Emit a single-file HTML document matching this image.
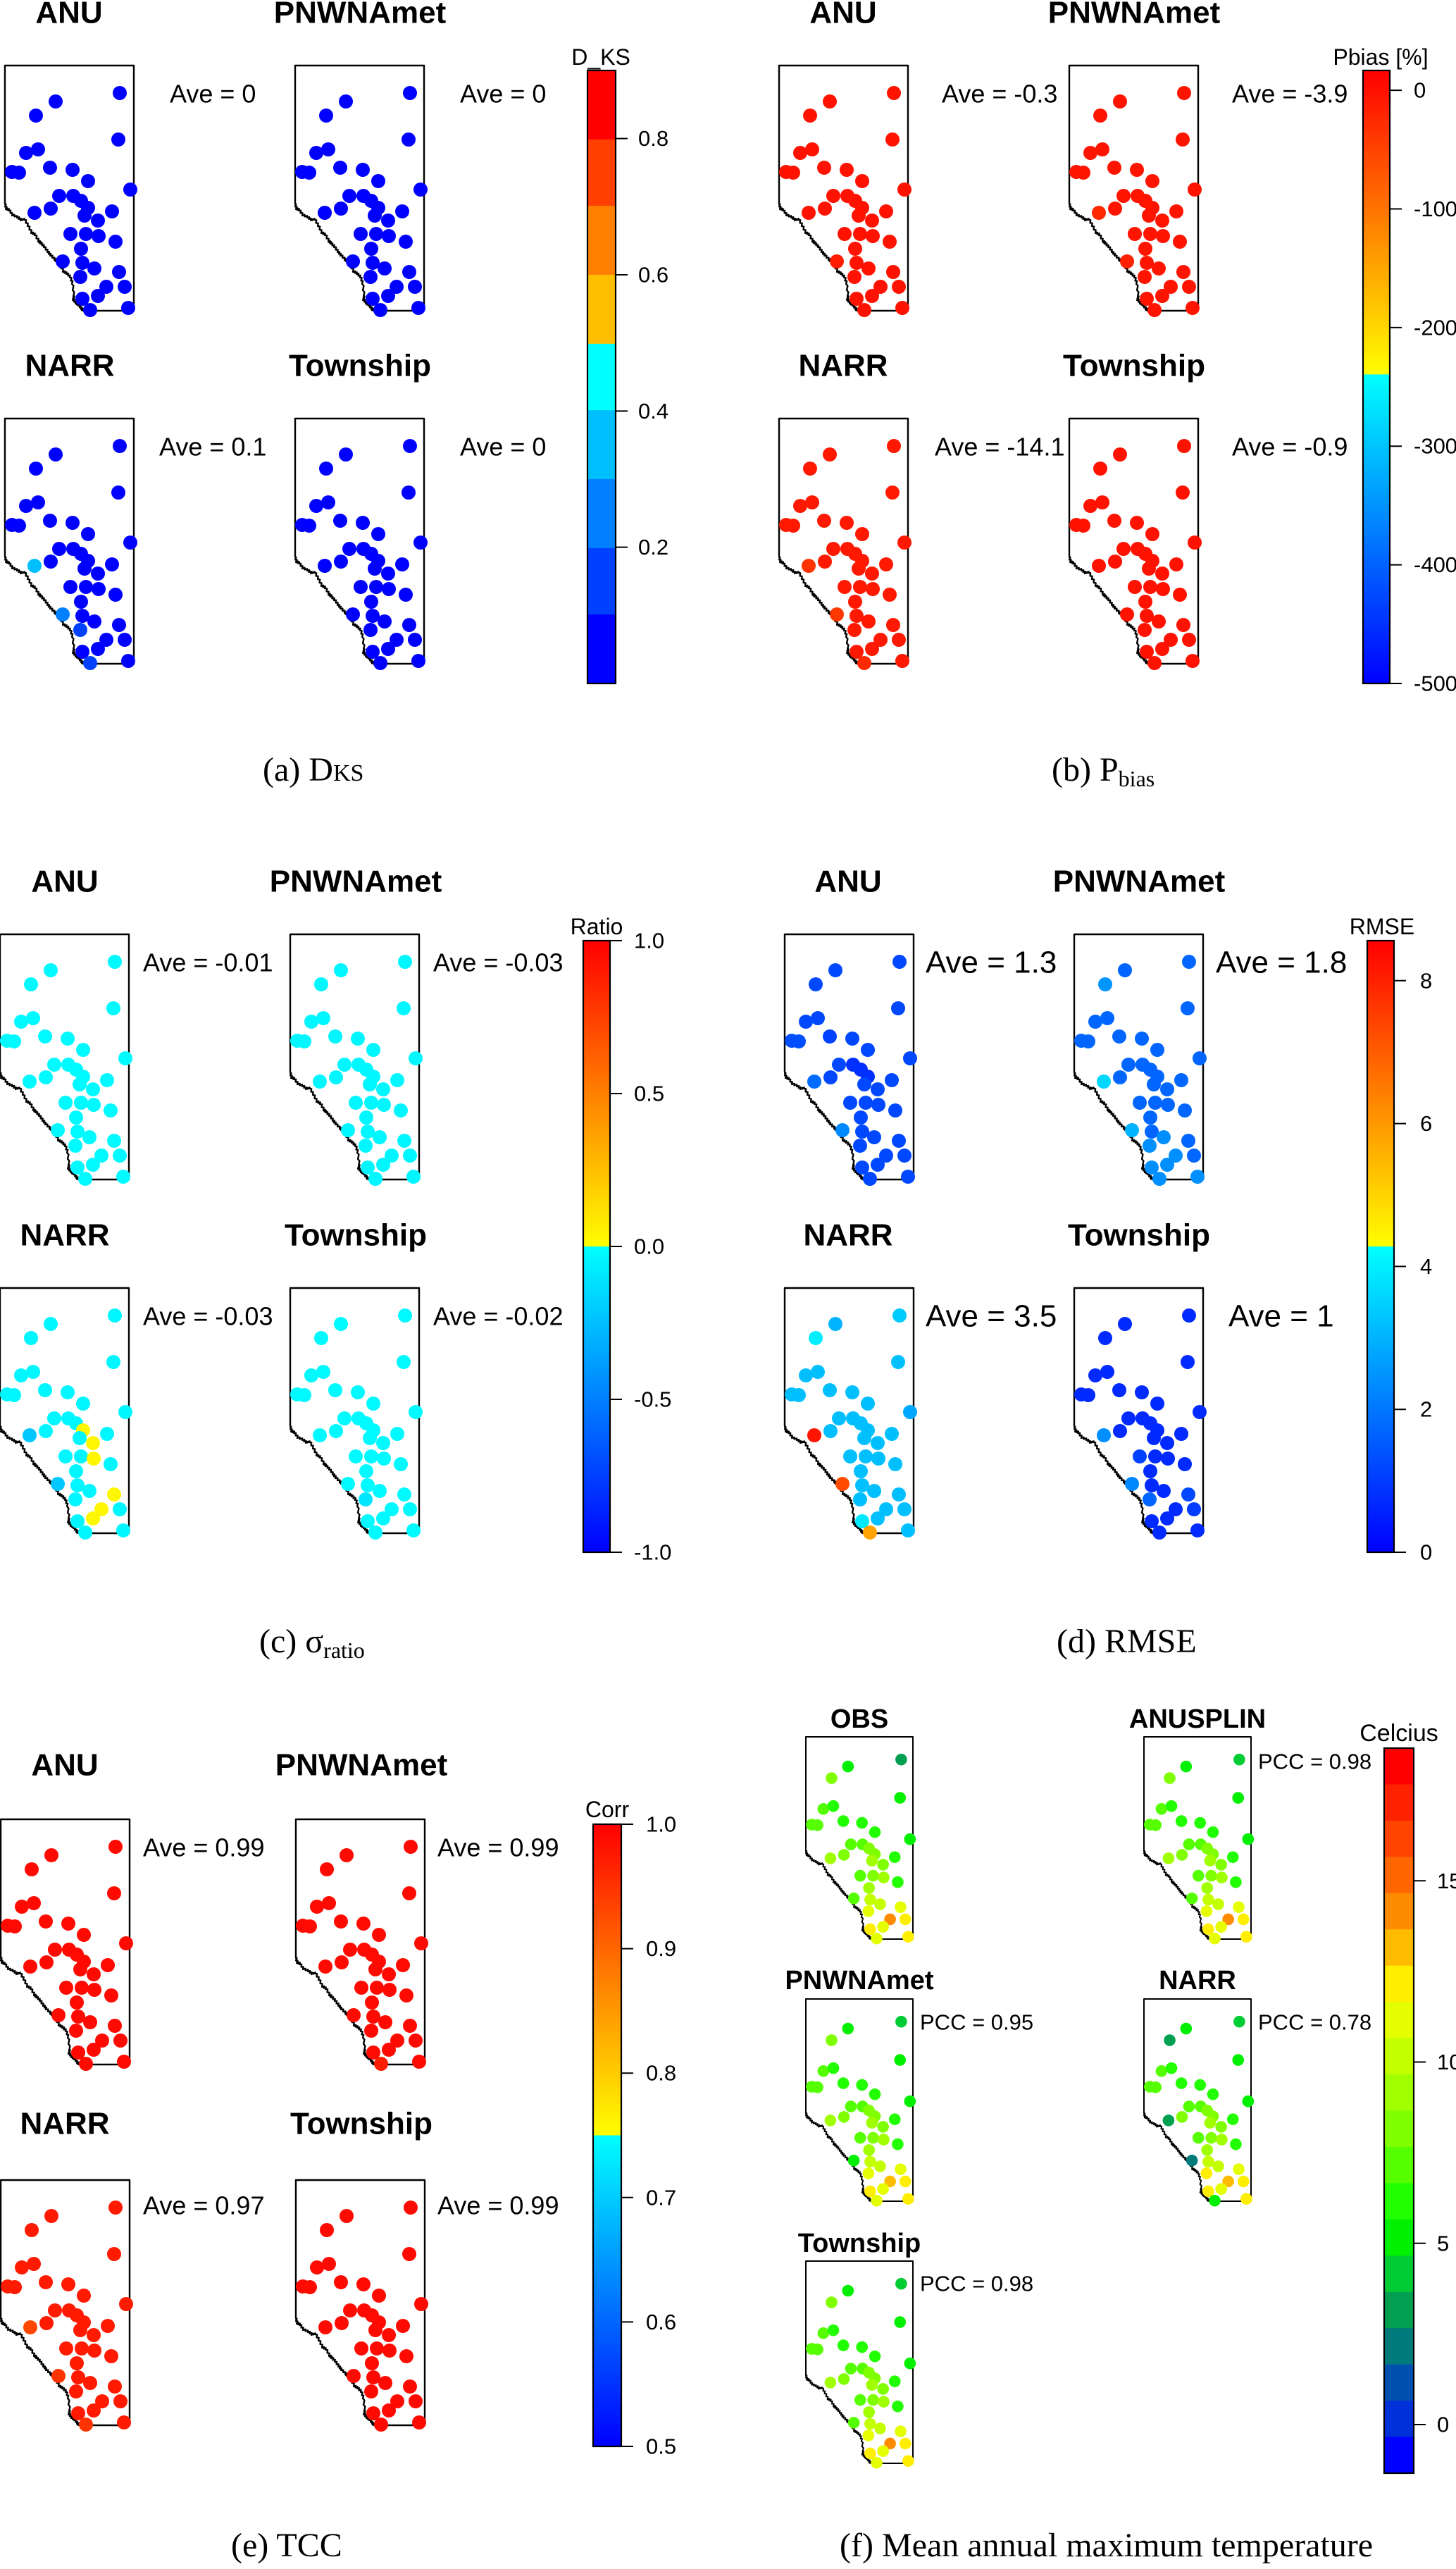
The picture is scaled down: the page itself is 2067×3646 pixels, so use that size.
<!DOCTYPE html>
<html>
<head>
<meta charset="utf-8">
<style>
  html,body{margin:0;padding:0;background:#fff;}
  svg{display:block;}
  text{font-family:"Liberation Sans",Arial,sans-serif;fill:#000;}
  .cap{font-family:"Liberation Serif","Times New Roman",serif;}
</style>
</head>
<body>
<svg id="fig" xmlns="http://www.w3.org/2000/svg" width="2067" height="3646" viewBox="0 0 2067 3646"></svg>
<script>
// ---------------- DATA ----------------
const stationLon = [163,72,44,161,30,47,10,20,64,96,118,178,77,97,108,118,113,65,42,152,132,93,115,133,157,108,82,110,127,162,107,144,170,132,110,121,175];
const stationLat = [39,51,71,105,124,119,151,152,145,148,164,176,185,185,192,202,213,203,209,207,220,239,239,242,250,260,278,280,288,293,300,314,314,327,331,347,344];
const coastLon = [0,2,6,11,18,23,28,33,38,43,48,51,56,61,65,71,73,78,83,88,93,96,98,97,101,105,109,111];
const coastLat = [196,203,205,212,215,219,218,227,237,240,249,252,257,264,269,275,277,282,292,295,300,309,327,332,337,340,345,348];

const aANU  = [0.03,0.03,0.03,0.03,0.03,0.03,0.03,0.03,0.03,0.03,0.03,0.03,0.03,0.03,0.03,0.03,0.03,0.03,0.03,0.03,0.03,0.03,0.03,0.03,0.03,0.03,0.03,0.03,0.03,0.03,0.03,0.03,0.03,0.03,0.03,0.03,0.03];
const aPNW  = [0.03,0.03,0.03,0.03,0.03,0.03,0.03,0.03,0.03,0.03,0.03,0.03,0.03,0.03,0.03,0.03,0.03,0.03,0.03,0.03,0.03,0.03,0.03,0.03,0.03,0.03,0.03,0.03,0.03,0.03,0.03,0.03,0.03,0.03,0.03,0.03,0.03];
const aNARR = [0.05,0.05,0.05,0.05,0.05,0.05,0.05,0.05,0.05,0.05,0.05,0.05,0.05,0.05,0.05,0.05,0.05,0.05,0.32,0.05,0.05,0.05,0.05,0.05,0.05,0.05,0.28,0.05,0.05,0.05,0.15,0.05,0.05,0.05,0.05,0.15,0.05];
const aTOWN = [0.03,0.03,0.03,0.03,0.03,0.03,0.03,0.03,0.03,0.03,0.03,0.03,0.03,0.03,0.03,0.03,0.03,0.03,0.03,0.03,0.03,0.03,0.03,0.03,0.03,0.03,0.03,0.03,0.03,0.03,0.03,0.03,0.03,0.03,0.03,0.03,0.03];
const bANU  = [-2,-2,-2,-2,-2,-2,-2,-2,-2,-2,-2,-2,-2,-2,-2,-2,-2,-2,-2,-2,-2,-2,-2,-2,-2,-2,-12,-2,-2,-2,-2,-2,-2,-2,-2,-2,-2];
const bPNW  = [-3,-3,-3,-3,-3,-3,-3,-3,-3,-3,-3,-3,-3,-3,-3,-3,-3,-3,-25,-3,-3,-3,-3,-3,-3,-3,-18,-3,-3,-3,-3,-3,-3,-3,-3,-3,-3];
const bNARR = [-8,-8,-8,-8,-8,-8,-8,-8,-8,-8,-8,-8,-8,-8,-8,-8,-8,-8,-35,-8,-8,-8,-8,-8,-8,-8,-40,-8,-8,-8,-8,-8,-8,-8,-8,-25,-8];
const bTOWN = [-1,-1,-1,-1,-1,-1,-1,-1,-1,-1,-1,-1,-1,-1,-1,-1,-1,-1,-1,-1,-1,-1,-1,-1,-1,-1,-1,-1,-1,-1,-1,-1,-1,-1,-1,-1,-1];
const cANU  = [-0.02,-0.02,-0.02,-0.02,-0.02,-0.02,-0.02,-0.02,-0.02,-0.02,-0.02,-0.02,-0.02,-0.02,-0.02,-0.02,-0.02,-0.02,-0.02,-0.02,-0.02,-0.02,-0.02,-0.02,-0.02,-0.02,-0.02,-0.02,-0.02,-0.02,-0.02,-0.02,-0.02,-0.02,-0.02,-0.02,-0.02];
const cPNW  = [-0.03,-0.03,-0.03,-0.03,-0.03,-0.03,-0.03,-0.03,-0.03,-0.03,-0.03,-0.03,-0.03,-0.03,-0.03,-0.03,-0.03,-0.03,-0.03,-0.03,-0.03,-0.03,-0.03,-0.03,-0.03,-0.03,-0.03,-0.03,-0.03,-0.03,-0.03,-0.03,-0.03,-0.03,-0.03,-0.03,-0.03];
const cNARR = [-0.03,-0.03,-0.03,-0.03,-0.03,-0.03,-0.03,-0.03,-0.03,-0.03,-0.03,-0.03,-0.03,-0.03,-0.03,0.03,-0.03,-0.03,-0.22,-0.03,0.03,-0.03,-0.03,0.03,-0.03,-0.03,-0.22,-0.03,-0.03,0.03,-0.03,0.03,-0.03,0.03,-0.03,-0.03,-0.03];
const cTOWN = [-0.02,-0.02,-0.02,-0.02,-0.02,-0.02,-0.02,-0.02,-0.02,-0.02,-0.02,-0.02,-0.02,-0.02,-0.02,-0.02,-0.02,-0.02,-0.02,-0.02,-0.02,-0.02,-0.02,-0.02,-0.02,-0.02,-0.02,-0.02,-0.02,-0.02,-0.1,-0.02,-0.02,-0.02,-0.02,-0.02,-0.02];
const dANU  = [1.2,1.2,1.2,1.2,1.2,1.2,1.3,1.3,1.1,1.2,1.2,1.2,1.2,0.8,0.8,0.8,1.2,1.2,1.8,1.2,1.2,1.2,1.2,1.2,1.2,1.2,2.3,1.2,1.2,1.2,1.2,1.2,1.2,1.2,1.2,1.2,1.2];
const dPNW  = [1.7,1.7,2.5,1.7,1.7,1.7,1.7,1.7,1.7,1.7,1.7,1.7,1.7,1.7,1.7,1.7,1.7,1.7,3.6,1.7,1.7,1.7,1.7,1.7,1.7,1.7,3.0,1.7,2.4,1.7,2.4,2.4,1.7,2.4,2.4,2.4,2.4];
const dNARR = [3.4,3.0,4.0,3.2,3.2,3.2,3.2,3.2,3.2,3.2,3.2,2.8,3.2,3.2,3.2,3.2,3.2,3.2,8.2,3.2,3.2,3.2,3.2,3.2,3.2,3.2,7.3,3.2,3.2,3.2,3.2,3.2,3.2,3.2,3.9,5.8,3.2];
const dTOWN = [0.7,0.7,0.7,0.7,0.7,0.7,0.7,0.7,0.7,0.7,0.7,0.7,0.7,0.7,0.7,0.7,0.7,0.7,2.4,0.7,0.7,1.1,0.7,0.7,0.7,0.7,2.3,0.7,0.7,1.2,1.7,0.7,1.0,0.7,0.7,0.7,0.7];
const eANU  = [0.99,0.99,0.99,0.99,0.99,0.99,0.99,0.99,0.99,0.99,0.99,0.99,0.99,0.99,0.99,0.99,0.99,0.99,0.99,0.99,0.99,0.99,0.99,0.99,0.99,0.99,0.99,0.99,0.99,0.99,0.99,0.99,0.99,0.99,0.99,0.99,0.99];
const ePNW  = [0.99,0.99,0.99,0.99,0.99,0.99,0.99,0.99,0.99,0.99,0.99,0.99,0.99,0.99,0.99,0.99,0.99,0.99,0.99,0.99,0.99,0.99,0.99,0.99,0.99,0.99,0.99,0.99,0.99,0.99,0.99,0.99,0.99,0.99,0.99,0.97,0.99];
const eNARR = [0.975,0.975,0.975,0.975,0.975,0.975,0.975,0.975,0.975,0.975,0.975,0.975,0.975,0.975,0.975,0.975,0.975,0.975,0.93,0.975,0.975,0.975,0.975,0.975,0.975,0.975,0.95,0.975,0.975,0.975,0.975,0.975,0.975,0.975,0.975,0.95,0.975];
const eTOWN = [0.99,0.99,0.99,0.99,0.99,0.99,0.99,0.99,0.99,0.99,0.99,0.99,0.99,0.99,0.99,0.99,0.99,0.99,0.99,0.99,0.99,0.99,0.99,0.99,0.99,0.99,0.99,0.99,0.99,0.99,0.99,0.99,0.99,0.99,0.99,0.99,0.99];
const fOBS  = [3.2,5.2,8.0,5.0,7.0,6.0,7.0,7.0,6.0,6.0,6.5,5.5,7.5,7.5,8.0,8.5,9.0,8.0,9.5,6.5,8.5,7.5,8.5,9.0,6.5,9.0,7.5,10.0,10.5,11.5,11.5,14.0,12.0,11.5,12.0,11.0,12.0];
const fANUS = [4.2,5.2,8.0,5.0,7.0,6.0,7.0,7.0,6.0,6.0,6.5,5.5,7.5,7.5,8.0,8.5,9.0,8.0,9.5,6.5,8.5,7.5,8.5,9.0,6.5,9.0,7.5,10.0,10.5,11.5,11.5,14.0,12.0,11.5,12.0,11.0,12.0];
const fPNW  = [4.0,5.2,8.0,5.0,7.0,6.0,7.0,7.0,6.0,6.0,6.5,5.5,7.5,7.5,8.0,8.5,9.0,8.0,9.5,6.5,8.5,7.5,8.5,9.0,6.5,9.0,5.2,10.0,10.5,11.5,11.5,13.2,12.0,11.5,12.0,11.0,12.0];
const fNARR = [4.0,5.2,3.2,5.0,7.0,6.0,7.0,7.0,6.0,6.0,6.5,5.5,7.5,7.5,8.0,8.5,9.0,8.0,3.0,6.5,8.5,7.5,8.5,9.0,6.5,9.0,2.2,10.0,10.5,11.5,12.0,13.2,12.0,11.5,12.0,4.8,12.0];
const fTOWN = [4.0,5.2,8.0,5.0,7.0,6.0,7.0,7.0,6.0,6.0,6.5,5.5,7.5,7.5,8.0,8.5,9.0,8.0,9.5,6.5,8.5,7.5,8.5,9.0,6.5,9.0,7.5,10.0,10.5,11.5,11.5,14.0,12.0,11.5,12.0,11.0,12.0];

const ticksA = [0.2,0.4,0.6,0.8];
const ticksB = [0,-100,-200,-300,-400,-500];
const ticksC = [1.0,0.5,0.0,-0.5,-1.0];
const ticksD = [0,2,4,6,8];
const ticksE = [0.5,0.6,0.7,0.8,0.9,1.0];
const ticksF = [0,5,10,15];

const aveA = ["Ave = 0","Ave = 0","Ave = 0.1","Ave = 0"];
const aveB = ["Ave = -0.3","Ave = -3.9","Ave = -14.1","Ave = -0.9"];
const aveC = ["Ave = -0.01","Ave = -0.03","Ave = -0.03","Ave = -0.02"];
const aveD = ["Ave = 1.3","Ave = 1.8","Ave = 3.5","Ave = 1"];
const aveE = ["Ave = 0.99","Ave = 0.99","Ave = 0.97","Ave = 0.99"];
const pccF = ["PCC = 0.98","PCC = 0.95","PCC = 0.78","PCC = 0.98"];

// ---------------- DRAWING ----------------
const NS = "http://www.w3.org/2000/svg";
const svg = document.getElementById('fig');
function el(tag, parent){ const e = document.createElementNS(NS, tag); (parent||svg).appendChild(e); return e; }
function rgb(r,g,b){ return 'rgb('+Math.round(r)+','+Math.round(g)+','+Math.round(b)+')'; }
function splitMap(min, brk, max){
  return function(v){
    if (v >= brk){ let t=(v-brk)/(max-brk); t=Math.max(0,Math.min(1,t)); return rgb(255,255*(1-t),0); }
    let t=(v-min)/(brk-min); t=Math.max(0,Math.min(1,t)); return rgb(0,255*t,255);
  };
}
const bandsA = ['#0000ff','#0040ff','#0080ff','#00bfff','#00ffff','#ffbf00','#ff8000','#ff4000','#ff0000'];
function cmapA(v){ let i=Math.floor(v/0.1); i=Math.max(0,Math.min(8,i)); return bandsA[i]; }
const bandsF = ['#0000ff','#0030d8','#0050b0','#007a7a','#00a050','#00cc33','#00f000','#22ff00','#55ff00','#80ff00','#a0ff00','#c4ff00','#e5ff00','#ffee00','#ffbb00','#ff8c00','#ff6600','#ff4400','#ff2200','#ff0000'];
const fMin=-1.34, fMax=18.66;
function cmapF(v){ let i=Math.floor((v-fMin)/((fMax-fMin)/20)); i=Math.max(0,Math.min(19,i)); return bandsF[i]; }
const cmapB = splitMap(-500,-240,16.7);
const cmapC = splitMap(-1,0,1);
const cmapD = splitMap(0,4.27,8.56);
const cmapE = splitMap(0.5,0.75,1.0);

function drawMap(name, x0, y0, w, h, values, cmap){
  const g = el('g');
  
  
  const sx = w/183, sy = h/348;
  const px = u => x0 + u*sx, py = u => y0 + u*sy;
  let d = 'M'+px(0)+','+py(coastLat[0])+' L'+px(0)+','+py(0)+' L'+px(183)+','+py(0)+' L'+px(183)+','+py(348)+' L'+px(coastLon[coastLon.length-1])+','+py(348);
  for (let i=coastLon.length-1;i>0;i--){
    const xa=coastLon[i], ya=coastLat[i], xb=coastLon[i-1], yb=coastLat[i-1];
    for (let k=1;k<=4;k++){
      const t=k/4; const j=(k%2?0.9:-0.9);
      d += ' L'+(px(xa+(xb-xa)*t)+j)+','+(py(ya+(yb-ya)*t)-j);
    }
  }
  const p = el('path', g);
  
  
  p.setAttribute('d', d);
  p.setAttribute('fill','none');
  p.setAttribute('stroke','#000');
  p.setAttribute('stroke-width', 2.4*sx);
  p.setAttribute('stroke-linejoin','round');
  const r = 10*sx;
  for (let i=0;i<stationLon.length;i++){
    const c = el('circle', g);
    
    
    c.setAttribute('cx', px(stationLon[i]));
    c.setAttribute('cy', py(stationLat[i]));
    c.setAttribute('r', r);
    c.setAttribute('fill', cmap(values[i]));
  }
}

function text(name, str, x, y, size, opts){
  const t = el('text');
  
  
  t.setAttribute('x', x);
  t.setAttribute('y', y);
  t.setAttribute('font-size', size);
  t.setAttribute('dominant-baseline','central');
  if (opts && opts.anchor) t.setAttribute('text-anchor', opts.anchor);
  if (opts && opts.bold) t.setAttribute('font-weight','bold');
  t.textContent = str;
  return t;
}

function colorbar(name, x0, y0, x1, y1, vmin, vmax, cmap, ticks, fmt, labelX, title, titleX, titleY, titleSize){
  const g = el('g');
  
  
  const N = 240, hgt = (y1-y0)/N;
  for (let i=0;i<N;i++){
    const v = vmax - (i+0.5)/N*(vmax-vmin);
    const r = el('rect', g);
    
    
    r.setAttribute('x', x0); r.setAttribute('y', y0+i*hgt);
    r.setAttribute('width', x1-x0); r.setAttribute('height', hgt+0.6);
    r.setAttribute('fill', cmap(v));
  }
  const b = el('rect', g);
  
  
  b.setAttribute('x', x0); b.setAttribute('y', y0);
  b.setAttribute('width', x1-x0); b.setAttribute('height', y1-y0);
  b.setAttribute('fill','none'); b.setAttribute('stroke','#000'); b.setAttribute('stroke-width',2.2);
  const yScale = v => y1 - (v-vmin)/(vmax-vmin)*(y1-y0);
  ticks.forEach(v=>{
    const y = yScale(v);
    const l = el('line', g);
    
    
    l.setAttribute('x1', x1); l.setAttribute('x2', x1+17);
    l.setAttribute('y1', y); l.setAttribute('y2', y);
    l.setAttribute('stroke','#000'); l.setAttribute('stroke-width',2);
    text(name+'-tick-label', fmt(v), labelX, y, 31);
  });
  text(name+'-title', title, titleX, titleY, titleSize||32, {anchor:'middle'});
}

const f1 = v => v.toFixed(1);
const f0 = v => String(v);
const MW=183, MH=348;

[['anu',7,93,98,18,aANU,241,133,'ANU'],['pnwnamet',419,93,511,18,aPNW,653,133,'PNWNAmet'],
 ['narr',7,594,99,519,aNARR,226,634,'NARR'],['township',419,594,511,519,aTOWN,653,634,'Township']].forEach((m,i)=>{
  text('a-'+m[0]+'-title', m[8], m[3], m[4], 44, {anchor:'middle', bold:true});
  drawMap('a-'+m[0], m[1], m[2], MW, MH, m[5], cmapA);
  text('a-'+m[0]+'-ave', aveA[i], m[6], m[7], 36);
});
colorbar('a-colorbar', 834,100,874,970, 0,0.9, cmapA, ticksA, f1, 906, 'D_KS', 853, 81);

[['anu',1106,93,1197,18,bANU,1337,133,'ANU'],['pnwnamet',1518,93,1610,18,bPNW,1749,133,'PNWNAmet'],
 ['narr',1106,594,1197,519,bNARR,1327,634,'NARR'],['township',1518,594,1610,519,bTOWN,1749,634,'Township']].forEach((m,i)=>{
  text('b-'+m[0]+'-title', m[8], m[3], m[4], 44, {anchor:'middle', bold:true});
  drawMap('b-'+m[0], m[1], m[2], MW, MH, m[5], cmapB);
  text('b-'+m[0]+'-ave', aveB[i], m[6], m[7], 36);
});
colorbar('b-colorbar', 1935,100,1973,970, -500,16.7, cmapB, ticksB, f0, 2007, 'Pbias [%]', 1960, 81);

[['anu',0,1326,92,1251,cANU,203,1366,'ANU'],['pnwnamet',412,1326,505,1251,cPNW,615,1366,'PNWNAmet'],
 ['narr',0,1828,92,1753,cNARR,203,1868,'NARR'],['township',412,1828,505,1753,cTOWN,615,1868,'Township']].forEach((m,i)=>{
  text('c-'+m[0]+'-title', m[8], m[3], m[4], 44, {anchor:'middle', bold:true});
  drawMap('c-'+m[0], m[1], m[2], MW, MH, m[5], cmapC);
  text('c-'+m[0]+'-ave', aveC[i], m[6], m[7], 36);
});
colorbar('c-colorbar', 828,1335,866,2203, -1,1, cmapC, ticksC, f1, 900, 'Ratio', 847, 1315);

[['anu',1114,1326,1204,1251,dANU,1314,1366,'ANU'],['pnwnamet',1525,1326,1617,1251,dPNW,1726,1366,'PNWNAmet'],
 ['narr',1114,1828,1204,1753,dNARR,1314,1868,'NARR'],['township',1525,1828,1617,1753,dTOWN,1744,1868,'Township']].forEach((m,i)=>{
  text('d-'+m[0]+'-title', m[8], m[3], m[4], 44, {anchor:'middle', bold:true});
  drawMap('d-'+m[0], m[1], m[2], MW, MH, m[5], cmapD);
  text('d-'+m[0]+'-ave', aveD[i], m[6], m[7], 44);
});
colorbar('d-colorbar', 1941,1335,1979,2203, 0,8.56, cmapD, ticksD, f0, 2016, 'RMSE', 1962, 1315);

[['anu',1,2582,92,2505,eANU,203,2622,'ANU'],['pnwnamet',420,2582,513,2505,ePNW,621,2622,'PNWNAmet'],
 ['narr',1,3094,92,3014,eNARR,203,3130,'NARR'],['township',420,3094,513,3014,eTOWN,621,3130,'Township']].forEach((m,i)=>{
  text('e-'+m[0]+'-title', m[8], m[3], m[4], 44, {anchor:'middle', bold:true});
  drawMap('e-'+m[0], m[1], m[2], MW, MH, m[5], cmapE);
  text('e-'+m[0]+'-ave', aveE[i], m[6], m[7], 36);
});
colorbar('e-colorbar', 842,2589,882,3472, 0.5,1.0, cmapE, ticksE, f1, 917, 'Corr', 862, 2568);

const FW=152, FH=287;
text('f-obs-title', 'OBS', 1220, 2440, 38, {anchor:'middle', bold:true});
drawMap('f-obs', 1144, 2465, FW, FH, fOBS, cmapF);
text('f-anusplin-title', 'ANUSPLIN', 1700, 2440, 38, {anchor:'middle', bold:true});
drawMap('f-anusplin', 1624, 2465, FW, FH, fANUS, cmapF);
text('f-anusplin-pcc', pccF[0], 1786, 2500, 31);
text('f-pnwnamet-title', 'PNWNAmet', 1220, 2811, 38, {anchor:'middle', bold:true});
drawMap('f-pnwnamet', 1144, 2837, FW, FH, fPNW, cmapF);
text('f-pnwnamet-pcc', pccF[1], 1306, 2870, 31);
text('f-narr-title', 'NARR', 1700, 2811, 38, {anchor:'middle', bold:true});
drawMap('f-narr', 1624, 2837, FW, FH, fNARR, cmapF);
text('f-narr-pcc', pccF[2], 1786, 2870, 31);
text('f-township-title', 'Township', 1220, 3184, 38, {anchor:'middle', bold:true});
drawMap('f-township', 1144, 3209, FW, FH, fTOWN, cmapF);
text('f-township-pcc', pccF[3], 1306, 3241, 31);
colorbar('f-colorbar', 1965,2481,2007,3510, fMin,fMax, cmapF, ticksF, f0, 2040, 'Celcius', 1986, 2460, 34);

function caption(name, x, y, main, sub, subSize, subDy){
  const t = el('text');
  
  
  t.setAttribute('class','cap');
  t.setAttribute('x', x); t.setAttribute('y', y);
  t.setAttribute('font-size', 48);
  t.textContent = main;
  if (sub){
    const s = el('tspan', t);
    s.setAttribute('font-size', subSize);
    s.setAttribute('dy', subDy);
    s.textContent = sub;
  }
}
caption('caption-a', 373, 1108, '(a) D', 'KS', 34, 0);
caption('caption-b', 1493, 1108, '(b) P', 'bias', 32, 8);
caption('caption-c', 368, 2345, '(c) \u03c3', 'ratio', 32, 8);
caption('caption-d', 1500, 2345, '(d) RMSE', '', 0, 0);
caption('caption-e', 328, 3628, '(e) TCC', '', 0, 0);
caption('caption-f', 1192, 3628, '(f) Mean annual maximum temperature', '', 0, 0);
</script>
</body>
</html>
